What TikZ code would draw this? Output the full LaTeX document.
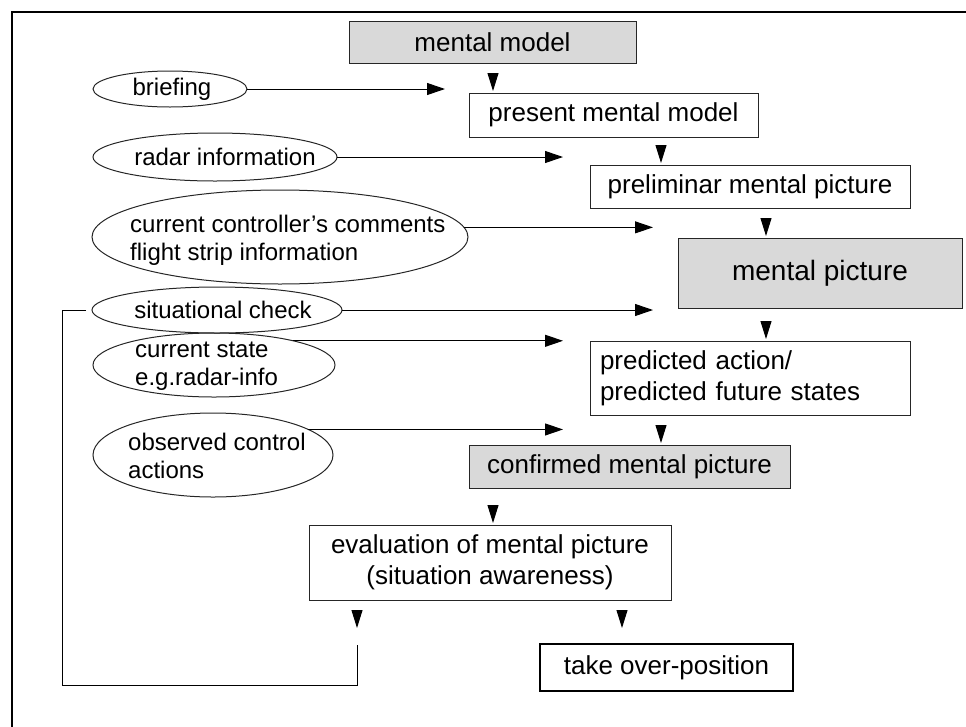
\documentclass[tikz,border=0pt]{standalone}
\usepackage{fontspec}
\setmainfont{Liberation Sans}
\usetikzlibrary{arrows.meta,calc,shapes.geometric}
\begin{document}
\begin{tikzpicture}[x=1pt,y=-1pt,
  line/.style={line width=1pt, draw=black},
  box/.style={draw=black!85, line width=1pt, rectangle, anchor=north west,
    inner sep=0pt, outer sep=0pt, font=\fontsize{26}{31}\selectfont},
  shaded/.style={box, fill=black!15},
  oval/.style={draw=black!85, line width=1pt, ellipse, inner sep=0pt, outer sep=0pt},
  otext/.style={inner sep=0pt, font=\fontsize{24}{28}\selectfont, align=left},
  arr/.style={line, -{Triangle[length=18pt,width=12pt]}},
  tri/.style={line, -{Triangle[length=18pt,width=11pt]}, shorten >=2pt},
]
\useasboundingbox (0,0) rectangle (966,726);

% outer frame (top and left edges)
\draw[line width=2.5pt] (12,730) -- (12,12) -- (970,12);

% main chain of boxes
\node[shaded, minimum width=287pt, minimum height=42pt] (mm) at (349,21) {mental model};
\node[box, minimum width=289pt, minimum height=44pt] (pmm) at (469,93) {present mental model};
\node[box, minimum width=320pt, minimum height=43pt] (pre) at (590,165) {preliminar mental picture};
\node[shaded, minimum width=284pt, minimum height=70pt, font=\fontsize{28}{33}\selectfont] (mp) at (678,238) {mental picture};
\node[box, minimum width=320pt, minimum height=74pt, text width=300pt, inner xsep=10pt,
  align=left] (pred) at (590,341) {predicted action/\\predicted future states};
\node[shaded, minimum width=321pt, minimum height=43pt] (conf) at (469,445) {confirmed mental picture};
\node[box, minimum width=362pt, minimum height=75pt, align=center] (ev) at (309,525)
  {evaluation of mental picture\\(situation awareness)};
\node[box, line width=2pt, draw=black, minimum width=253pt, minimum height=47pt] (to) at (540,644)
  {take over-position};

% information sources
\node[oval, minimum width=154pt, minimum height=36pt] (br) at (170,89) {};
\node[otext] (brt) at (172,89) {briefing};
\node[oval, minimum width=244pt, minimum height=48pt] (ri) at (215,157) {};
\node[otext] (rit) at (225,157) {radar information};
\node[oval, minimum width=376pt, minimum height=94pt] (cc) at (280,237) {};
\node[otext, anchor=west] (cct) at (130,240) {current controller’s comments\\flight strip information};
\node[oval, minimum width=250pt, minimum height=46pt] (sc) at (217,310) {};
\node[otext] (sct) at (223,310) {situational check};
\node[oval, minimum width=242pt, minimum height=64pt] (cs) at (214,365) {};
\node[otext, anchor=west] (cst) at (135,366) {current state\\e.g.radar-info};
\node[oval, minimum width=240pt, minimum height=84pt] (oc) at (213,455) {};
\node[otext, anchor=west] (oct) at (128,456) {observed control\\actions};

% free ends of the input arrows
\coordinate (a1) at (445,89);
\coordinate (a2) at (563,157);
\coordinate (a3) at (653,229);
\coordinate (a4) at (653,310);
\coordinate (a5) at (563,341);
\coordinate (a6) at (563,430);

\draw[arr] (br.east) -- (a1);
\draw[arr] (ri.east) -- (a2);
\draw[arr] (cc.3) -- (a3 |- cc.3);
\draw[arr] (sc.east) -- (a4);
\draw[arr] (cs.17) -- (a5 |- cs.17);
\draw[arr] (oc.15) -- (a6 |- oc.15);

% downward flow marks
\coordinate (t1) at (493,73);
\coordinate (t2) at (661,145);
\coordinate (t3) at (766,218);
\coordinate (t4) at (766,321);
\coordinate (t5) at (661,425);
\coordinate (t6) at (493,505);
\coordinate (t7) at (357,610);
\coordinate (t8) at (622,610);

\draw[tri] (t1) -- (t1 |- pmm.north);
\draw[tri] (t2) -- (t2 |- pre.north);
\draw[tri] (t3) -- (t3 |- mp.north);
\draw[tri] (t4) -- (t4 |- pred.north);
\draw[tri] (t5) -- (t5 |- conf.north);
\draw[tri] (t6) -- (t6 |- ev.north);
\draw[tri, shorten >=0pt] (t7) -- ++(0,18);
\draw[tri, shorten >=0pt] (t8) -- ++(0,18);

% feedback loop back to the situational check
\coordinate (fbl) at (62,685);
\coordinate (fbr) at (357,645);
\draw[line] ([xshift=-6pt]sc.west) -| (fbl) -| (fbr);
\end{tikzpicture}
\end{document}
